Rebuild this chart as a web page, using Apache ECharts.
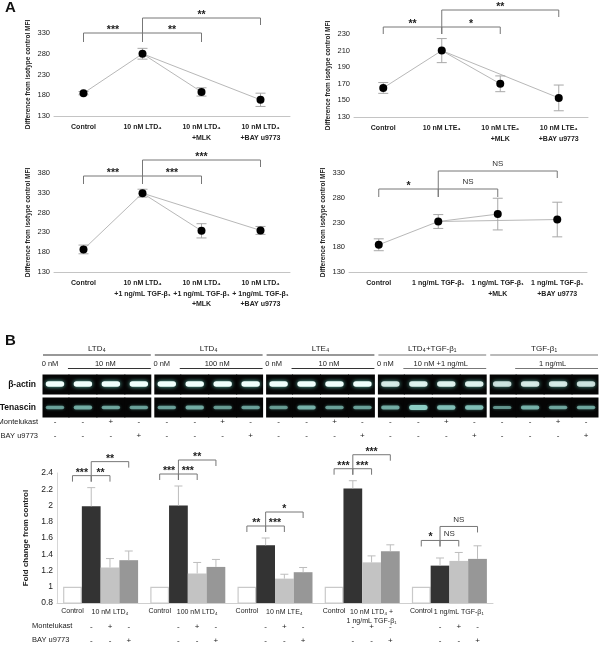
<!DOCTYPE html>
<html><head><meta charset="utf-8">
<script src="https://cdn.jsdelivr.net/npm/echarts@6/dist/echarts.min.js"></script>
<style>html,body{margin:0;padding:0;background:#fff}#c{width:600px;height:646px}</style>
</head><body><div id="c"></div><script>
// ---------------- DATA ----------------
// Panel A, top-left (LTD4)
const a1Labels = ['Control', '10 nM LTD₄', '10 nM LTD₄\n+MLK', '10 nM LTD₄\n+BAY u9773'];
const a1Values = [185, 280, 188, 169];
const a1Errors = [4, 13, 10, 16];
const a1Ticks = [130, 180, 230, 280, 330];
const a1Sigs = [[0, 1, 0], [1, 2, 0], [1, 3, 1]];
const a1SigLabels = ['***', '**', '**'];
// Panel A, top-right (LTE4)
const a2Labels = ['Control', '10 nM LTE₄', '10 nM LTE₄\n+MLK', '10 nM LTE₄\n+BAY u9773'];
const a2Values = [165, 210, 170, 153];
const a2Errors = [6.5, 14.5, 9.5, 15.5];
const a2Ticks = [130, 150, 170, 190, 210, 230];
const a2Sigs = [[0, 1, 0], [1, 2, 0], [1, 3, 1]];
const a2SigLabels = ['**', '*', '**'];
// Panel A, bottom-left (LTD4 + TGF-b1)
const a3Labels = ['Control', '10 nM LTD₄\n+1 ng/mL TGF-β₁', '10 nM LTD₄\n+1 ng/mL TGF-β₁\n+MLK', '10 nM LTD₄\n+ 1ng/mL TGF-β₁\n+BAY u9773'];
const a3Values = [187, 329, 234, 235];
const a3Errors = [11, 10, 18, 10];
const a3Ticks = [130, 180, 230, 280, 330, 380];
const a3Sigs = [[0, 1, 0], [1, 2, 0], [1, 3, 1]];
const a3SigLabels = ['***', '***', '***'];
// Panel A, bottom-right (TGF-b1)
const a4Labels = ['Control', '1 ng/mL TGF-β₁', '1 ng/mL TGF-β₁\n+MLK', '1 ng/mL TGF-β₁\n+BAY u9773'];
const a4Values = [185, 232, 247, 236];
const a4Errors = [12, 14, 32, 35];
const a4Ticks = [130, 180, 230, 280, 330];
const a4Sigs = [[0, 1, 0], [1, 2, 0], [1, 3, 1]];
const a4SigLabels = ['*', 'NS', 'NS'];

// Panel B gels
const gelGroups = ['LTD₄', 'LTD₄', 'LTE₄', 'LTD₄+TGF-β₁', 'TGF-β₁'];
const gelDoseZero = ['0 nM', '0 nM', '0 nM', '0 nM', ''];
const gelDose = ['10 nM', '100 nM', '10 nM', '10 nM +1 ng/mL', '1 ng/mL'];
const gelRows = ['Tenascin', 'β-actin'];
const actinIntensity = [1, 1, 1, 1, 1, 1, 1, 1, 1, 1, 1, 1, 0.85, 0.9, 0.9, 0.9, 0.8, 0.85, 0.85, 0.8];
const tenascinIntensity = [0.5, 0.6, 0.55, 0.5, 0.5, 0.6, 0.45, 0.5, 0.45, 0.65, 0.5, 0.5, 0.6, 1, 0.8, 0.8, 0.4, 0.65, 0.55, 0.55];
const laneMontelukast = [0, 0, 1, 0, 0, 0, 1, 0, 0, 0, 1, 0, 0, 0, 1, 0, 0, 0, 1, 0];
const laneBay = [0, 0, 0, 1, 0, 0, 0, 1, 0, 0, 0, 1, 0, 0, 0, 1, 0, 0, 0, 1];
const signRows = ['BAY u9773', 'Montelukast'];

// Panel B bars
const barGroups = ['10 nM LTD₄', '100 nM LTD₄', '10 nM LTE₄', '10 nM LTD₄ +\n1 ng/mL TGF-β₁', '1 ng/mL TGF-β₁'];
const barControl = [1, 1, 1, 1, 1];
const barTreat = [1.99, 2.00, 1.51, 2.21, 1.26];
const barTreatErr = [0.23, 0.24, 0.09, 0.095, 0.094];
const barMlk = [1.237, 1.163, 1.10, 1.30, 1.318];
const barMlkErr = [0.11, 0.136, 0.054, 0.08, 0.104];
const barBay = [1.327, 1.244, 1.179, 1.438, 1.343];
const barBayErr = [0.113, 0.092, 0.058, 0.078, 0.161];
const barTicks = [0.8, 1, 1.2, 1.4, 1.6, 1.8, 2, 2.2, 2.4];
const barSigs = [
  [[0, 1, 0], [1, 2, 0], [1, 3, 1]],
  [[0, 1, 0], [1, 2, 0], [1, 3, 1]],
  [[0, 1, 0], [1, 2, 0], [1, 3, 1]],
  [[0, 1, 0], [1, 2, 0], [1, 3, 1]],
  [[0, 1, 0], [1, 2, 0], [1, 3, 1]]
];
const barSigLabels = [
  ['***', '**', '**'],
  ['***', '***', '**'],
  ['**', '***', '*'],
  ['***', '***', '***'],
  ['*', 'NS', 'NS']
];
const barMontelukast = [0, 1, 0];
const barBaySign = [0, 0, 1];

// ---------------- HELPERS ----------------
const F = '"Liberation Sans", Arial, sans-serif';
function T(x, y, text, size, weight, align, vAlign, color, lh) {
  const st = {text: text, fontFamily: F, fontSize: size, fontWeight: weight || 'normal', fill: color || '#222',
    align: align || 'center', verticalAlign: vAlign || 'middle'};
  if (lh) st.lineHeight = lh;
  return {type: 'text', x: x, y: y, style: st};
}
function PL(points, color, w) {
  return {type: 'polyline', shape: {points: points}, style: {stroke: color || '#666', lineWidth: w || 1, fill: null}};
}
function sigText(x, y, label) {
  if (label === 'NS') return T(x, y - 7, 'NS', 8, 'normal', 'center', 'middle', '#333');
  return T(x, y - 3, label, 10.5, 'bold', 'center', 'middle', '#222');
}
function bracket(xa, xb, y, dl, dr, label) {
  return {type: 'group', children: [
    PL([[xa, y + dl], [xa, y], [xb, y], [xb, y + dr]], '#777', 1),
    sigText((xa + xb) / 2, y, label)
  ]};
}

const grids = [], xAxes = [], yAxes = [], series = [];

function linePanel(idx, grid, labels, values, errors, ticks, sigs, sigLabels, offsets, lowDrop) {
  grids.push(Object.assign({outerBoundsMode: 'none', containLabel: false}, grid));
  xAxes.push({gridIndex: idx, type: 'category', data: labels, boundaryGap: true,
    axisLine: {show: true, lineStyle: {color: '#c4c4c4', width: 1}}, axisTick: {show: false},
    axisLabel: {interval: 0, fontFamily: F, fontSize: 7, fontWeight: 'bold', color: '#222', lineHeight: 10.5, margin: 6},
    splitLine: {show: false}});
  yAxes.push({gridIndex: idx, type: 'value', min: ticks[0], max: ticks[ticks.length - 1], interval: ticks[1] - ticks[0],
    axisLine: {show: false}, axisTick: {show: false}, splitLine: {show: false},
    axisLabel: {fontFamily: F, fontSize: 7.5, color: '#222', margin: 4},
    name: 'Difference from isotype control MFI', nameLocation: 'middle', nameRotate: 90, nameGap: 22,
    nameTextStyle: {fontFamily: F, fontSize: 6.5, fontWeight: 'bold', color: '#222'}});
  const common = {xAxisIndex: idx, yAxisIndex: idx, silent: true, animation: false};
  series.push(Object.assign({type: 'line', data: [values[0], values[1], values[2], '-'], symbol: 'none',
    lineStyle: {color: '#b8b8b8', width: 1}, z: 1}, common));
  series.push(Object.assign({type: 'line', data: ['-', values[1], '-', values[3]], connectNulls: true, symbol: 'none',
    lineStyle: {color: '#b8b8b8', width: 1}, z: 1}, common));
  series.push(Object.assign({type: 'custom', z: 2, data: values.map((v, i) => [i, v, errors[i]]),
    renderItem: function (params, api) {
      const i = api.value(0), v = api.value(1), e = api.value(2);
      const t = api.coord([i, v + e]), b = api.coord([i, v - e]);
      const c = 5;
      return {type: 'group', children: [
        PL([[t[0], t[1]], [b[0], b[1]]], '#a8a8a8', 1),
        PL([[t[0] - c, t[1]], [t[0] + c, t[1]]], '#a8a8a8', 1),
        PL([[b[0] - c, b[1]], [b[0] + c, b[1]]], '#a8a8a8', 1)
      ]};
    }}, common));
  series.push(Object.assign({type: 'scatter', data: values, symbol: 'circle', symbolSize: 8,
    itemStyle: {color: '#000000', opacity: 1, borderWidth: 0}, z: 5}, common));
  series.push(Object.assign({type: 'custom', z: 3, clip: false, data: sigs,
    renderItem: function (params, api) {
      const s = sigs[params.dataIndex];
      const cs = params.coordSys;
      const xa = api.coord([s[0], ticks[0]])[0], xb = api.coord([s[1], ticks[0]])[0];
      const y = cs.y + offsets[s[2]];
      const yLow = cs.y + offsets[0];
      const dl = s[2] === 0 ? lowDrop : (yLow - y);
      const dr = s[2] === 0 ? lowDrop : 7;
      return bracket(xa, xb, y, dl, dr, sigLabels[params.dataIndex]);
    }}, common));
}

linePanel(0, {left: 54, top: 33, width: 236, height: 83}, a1Labels, a1Values, a1Errors, a1Ticks, a1Sigs, a1SigLabels, [0, -15], 9);
linePanel(1, {left: 354, top: 34, width: 234, height: 83}, a2Labels, a2Values, a2Errors, a2Ticks, a2Sigs, a2SigLabels, [-7, -24], 7);
linePanel(2, {left: 54, top: 173, width: 236, height: 99}, a3Labels, a3Values, a3Errors, a3Ticks, a3Sigs, a3SigLabels, [3, -13], 8);
linePanel(3, {left: 349, top: 173, width: 238, height: 99}, a4Labels, a4Values, a4Errors, a4Ticks, a4Sigs, a4SigLabels, [16, -2], 8);

// ---- Bar chart (grid 4) ----
const BW = 0.215;
grids.push({left: 57, top: 473, width: 436, height: 130, outerBoundsMode: 'none', containLabel: false});
xAxes.push({gridIndex: 4, type: 'category', data: barGroups, boundaryGap: true,
  axisLine: {show: true, lineStyle: {color: '#cfcfcf', width: 1}}, axisTick: {show: false},
  axisLabel: {show: false}, splitLine: {show: false}});
yAxes.push({gridIndex: 4, type: 'value', min: barTicks[0], max: barTicks[barTicks.length - 1], interval: 0.2,
  axisLine: {show: true, lineStyle: {color: '#d6d6d6', width: 1}}, axisTick: {show: false}, splitLine: {show: false},
  axisLabel: {fontFamily: F, fontSize: 8.5, color: '#222', margin: 4},
  name: 'Fold change from control', nameLocation: 'middle', nameRotate: 90, nameGap: 23,
  nameTextStyle: {fontFamily: F, fontSize: 8, fontWeight: 'bold', color: '#222'}});
const barVals = [barControl, barTreat, barMlk, barBay];
const barErrs = [[0, 0, 0, 0, 0], barTreatErr, barMlkErr, barBayErr];
const barStyles = [
  {color: '#ffffff', borderColor: '#c9c9c9', borderWidth: 1.2},
  {color: '#333333'},
  {color: '#c3c3c3'},
  {color: '#979797'}
];
barVals.forEach((vals, k) => {
  series.push({type: 'bar', xAxisIndex: 4, yAxisIndex: 4, data: vals, barWidth: (BW * 100) + '%', barGap: '0%',
    itemStyle: barStyles[k], silent: true, animation: false, z: 2});
});
function barX(api, g, k) {
  const band = api.size([1, 0])[0];
  return api.coord([g, 1])[0] + (k - 1.5) * band * BW;
}
// error bars
const barErrData = [];
for (let g = 0; g < barGroups.length; g++) for (let k = 1; k < 4; k++) barErrData.push([g, barVals[k][g], barErrs[k][g], k]);
series.push({type: 'custom', xAxisIndex: 4, yAxisIndex: 4, silent: true, animation: false, z: 3, data: barErrData,
  renderItem: function (params, api) {
    const g = api.value(0), v = api.value(1), e = api.value(2), k = api.value(3);
    const x = barX(api, g, k);
    const yt = api.coord([g, v])[1], ye = api.coord([g, v + e])[1];
    return {type: 'group', children: [
      PL([[x, yt], [x, ye]], '#bdbdbd', 1),
      PL([[x - 4, ye], [x + 4, ye]], '#bdbdbd', 1)
    ]};
  }});
// brackets
const barSigData = [];
barSigs.forEach((arr, g) => arr.forEach((s, n) => barSigData.push([g, n])));
series.push({type: 'custom', xAxisIndex: 4, yAxisIndex: 4, silent: true, animation: false, z: 4, clip: false, data: barSigData,
  renderItem: function (params, api) {
    const g = api.value(0), n = api.value(1);
    const s = barSigs[g][n];
    let minY = Infinity;
    for (let k = 0; k < 3; k++) minY = Math.min(minY, api.coord([g, barVals[k][g] + barErrs[k][g]])[1]);
    const y0 = minY - 12;
    const y = s[2] === 0 ? y0 : y0 - 14;
    const xa = barX(api, g, s[0]), xb = barX(api, g, s[1]);
    const dl = s[2] === 0 ? 6 : (y0 - y);
    return bracket(xa, xb, y, dl, 6, barSigLabels[g][n]);
  }});
// labels & signs under bars
series.push({type: 'custom', xAxisIndex: 4, yAxisIndex: 4, silent: true, animation: false, z: 4, clip: false,
  data: barGroups.map((_, g) => [g, 1]),
  renderItem: function (params, api) {
    const g = api.value(0);
    const cs = params.coordSys;
    const base = cs.y + cs.height;
    const ch = [
      T(barX(api, g, 0), base + 5, 'Control', 7, 'normal', 'center', 'top', '#222'),
      T(barX(api, g, 2), base + 5, barGroups[g], 7, 'normal', 'center', 'top', '#222', 9)
    ];
    for (let k = 1; k < 4; k++) {
      const x = barX(api, g, k);
      ch.push(T(x, base + 24, barMontelukast[k - 1] ? '+' : '-', 8, 'normal', 'center', 'middle', '#222'));
      ch.push(T(x, base + 37.5, barBaySign[k - 1] ? '+' : '-', 8, 'normal', 'center', 'middle', '#222'));
    }
    return {type: 'group', children: ch};
  }});

// ---- Gel (grid 5) ----
const lanes = actinIntensity.map((_, i) => String(i));
grids.push({left: 41, top: 373, width: 559, height: 46, outerBoundsMode: 'none', containLabel: false});
xAxes.push({gridIndex: 5, type: 'category', data: lanes, boundaryGap: true, axisLine: {show: false},
  axisTick: {show: false}, axisLabel: {show: false}, splitLine: {show: false}});
yAxes.push({gridIndex: 5, type: 'category', data: gelRows, axisLine: {show: false}, axisTick: {show: false},
  splitLine: {show: false}, axisLabel: {fontFamily: F, fontSize: 8.5, fontWeight: 'bold', color: '#111', margin: 5}});
const gelData = [];
lanes.forEach((_, i) => { gelData.push([i, 1, actinIntensity[i]]); gelData.push([i, 0, tenascinIntensity[i]]); });
series.push({type: 'custom', xAxisIndex: 5, yAxisIndex: 5, silent: true, animation: false, data: gelData,
  renderItem: function (params, api) {
    const lane = api.value(0), row = api.value(1), v = api.value(2);
    const c = api.coord([lane, row]);
    const sz = api.size([1, 1]);
    let x0 = c[0] - sz[0] / 2 - 0.5, x1 = c[0] + sz[0] / 2 + 0.5;
    if (lane % 4 === 0) x0 += 2; if (lane % 4 === 3) x1 -= 2;
    const y0 = c[1] - sz[1] / 2 + 1.5, y1 = c[1] + sz[1] / 2 - 1.5;
    const actin = row === 1;
    const bw = sz[0] * 0.66, bh = actin ? 5.5 : 2 + v * 3;
    const bandStyle = actin
      ? {fill: 'rgba(240,255,252,' + v + ')', shadowBlur: 4, shadowColor: 'rgba(110,220,200,0.9)'}
      : {fill: 'rgba(140,205,195,' + (0.35 + 0.65 * v) + ')', shadowBlur: 3, shadowColor: 'rgba(90,170,160,0.8)'};
    return {type: 'group', children: [
      {type: 'rect', shape: {x: x0, y: y0, width: x1 - x0, height: y1 - y0}, style: {fill: '#050505'}},
      {type: 'rect', shape: {x: c[0] - bw / 2, y: c[1] - bh / 2 + (actin ? -0.5 : 0), width: bw, height: bh, r: bh / 2}, style: bandStyle}
    ]};
  }});
// gel headers
series.push({type: 'custom', xAxisIndex: 5, yAxisIndex: 5, silent: true, animation: false, clip: false,
  data: gelGroups.map((_, g) => [g * 4, 1]),
  renderItem: function (params, api) {
    const g = params.dataIndex;
    const cs = params.coordSys;
    const sz = api.size([1, 1]);
    const lx = (i) => api.coord([i, 1])[0];
    const left = lx(4 * g) - sz[0] / 2 + 2, right = lx(4 * g + 3) + sz[0] / 2 - 2;
    const subL = lx(4 * g + 1) - sz[0] / 2 - 1, subR = right;
    const lineCol = g >= 3 ? '#777' : '#333';
    const ch = [
      T((left + right) / 2, cs.y - 24, gelGroups[g], 8, 'normal', 'center', 'middle', '#222'),
      PL([[left, cs.y - 18], [right, cs.y - 18]], lineCol, 1.2),
      T((subL + subR) / 2 - 4, cs.y - 9, gelDose[g], 7.5, 'normal', 'center', 'middle', '#222'),
      PL([[subL, cs.y - 4.5], [subR, cs.y - 4.5]], lineCol, 1.2)
    ];
    if (gelDoseZero[g]) ch.push(T(lx(4 * g) - 5, cs.y - 9, gelDoseZero[g], 7.5, 'normal', 'center', 'middle', '#222'));
    return {type: 'group', children: ch};
  }});

// ---- Gel sign rows (grid 6) ----
grids.push({left: 41, top: 415, width: 559, height: 28, outerBoundsMode: 'none', containLabel: false});
xAxes.push({gridIndex: 6, type: 'category', data: lanes, boundaryGap: true, axisLine: {show: false},
  axisTick: {show: false}, axisLabel: {show: false}, splitLine: {show: false}});
yAxes.push({gridIndex: 6, type: 'category', data: signRows, axisLine: {show: false}, axisTick: {show: false},
  splitLine: {show: false}, axisLabel: {fontFamily: F, fontSize: 7.5, color: '#222', margin: 3}});
const signData = [];
lanes.forEach((_, i) => { signData.push([i, 1, laneMontelukast[i]]); signData.push([i, 0, laneBay[i]]); });
series.push({type: 'custom', xAxisIndex: 6, yAxisIndex: 6, silent: true, animation: false, data: signData,
  renderItem: function (params, api) {
    const c = api.coord([api.value(0), api.value(1)]);
    return T(c[0], c[1], api.value(2) ? '+' : '-', 8, 'normal', 'center', 'middle', '#222');
  }});

const option = {
  backgroundColor: '#ffffff',
  animation: false,
  grid: grids, xAxis: xAxes, yAxis: yAxes, series: series,
  graphic: [
    {type: 'text', left: 5, top: 0, style: {text: 'A', fontFamily: F, fontSize: 15, fontWeight: 'bold', fill: '#111'}},
    {type: 'text', left: 5, top: 333, style: {text: 'B', fontFamily: F, fontSize: 15, fontWeight: 'bold', fill: '#111'}},
    {type: 'text', left: 32, top: 622, style: {text: 'Montelukast', fontFamily: F, fontSize: 7.5, fill: '#222'}},
    {type: 'text', left: 32, top: 636, style: {text: 'BAY u9773', fontFamily: F, fontSize: 7.5, fill: '#222'}}
  ]
};
const chart = echarts.init(document.getElementById('c'), null, {renderer: 'canvas', width: 600, height: 646});
chart.setOption(option);
</script></body></html>
